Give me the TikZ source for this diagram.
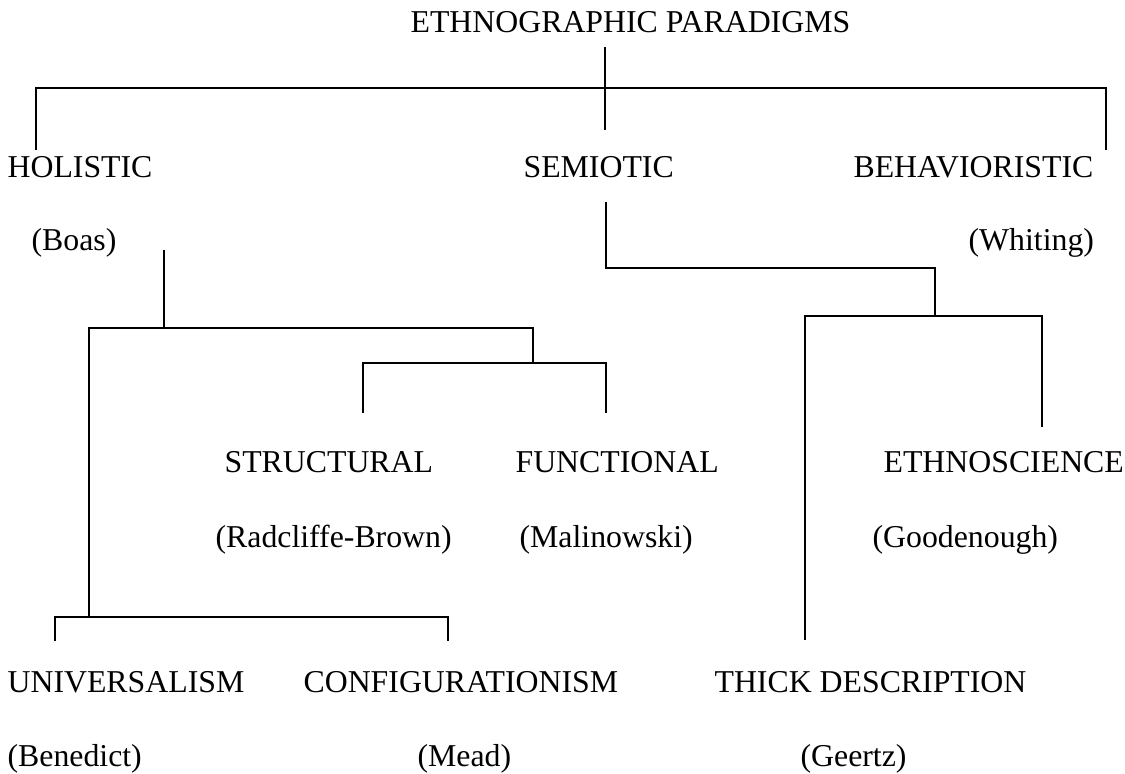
\documentclass[tikz,border=0pt]{standalone}
\usepackage{fontspec}
\setmainfont{Liberation Serif}
\usepackage{tikz}

\begin{document}
\begin{tikzpicture}[x=0.5pt,y=-0.5pt,line width=0.6pt,
  every node/.style={anchor=base west,inner sep=0pt,font=\fontsize{15.9}{19}\selectfont}]
\useasboundingbox (0,0) rectangle (1125,774);
% texts
\node (para) at (410,33) {ETHNOGRAPHIC PARADIGMS};
\node (hol) at (7,178) {HOLISTIC};
\node (sem) at (523,178) {SEMIOTIC};
\node (beh) at (853,178) {BEHAVIORISTIC};
\node (boas) at (31,251) {(Boas)};
\node (whit) at (968,251) {(Whiting)};
\node (str) at (224,473) {STRUCTURAL};
\node (fun) at (515,473) {FUNCTIONAL};
\node (esc) at (883,473) {ETHNOSCIENCE};
\node (rb) at (215,548) {(Radcliffe-Brown)};
\node (mal) at (519,548) {(Malinowski)};
\node (good) at (872,548) {(Goodenough)};
\node (uni) at (7,693) {UNIVERSALISM};
\node (conf) at (303,693) {CONFIGURATIONISM};
\node (thick) at (714,693) {THICK DESCRIPTION};
\node (bene) at (7,767) {(Benedict)};
\node (mead) at (417,767) {(Mead)};
\node (geer) at (800,767) {(Geertz)};
% line ends
\coordinate (para-s) at (605,47);
\coordinate (sem-n) at (605,130);
\coordinate (hol-n) at (36,150);
\coordinate (beh-n) at (1106,150);
\coordinate (sem-s) at (606,202);
\coordinate (boas-s) at (164,250);
\coordinate (str-n) at (363,413);
\coordinate (fun-n) at (606,413);
\coordinate (esc-n) at (1042,427);
\coordinate (thick-n) at (805,640);
\coordinate (uni-n) at (55,641);
\coordinate (conf-n) at (448,641);
% paradigms
\draw (para-s) -- (sem-n);
\draw (hol-n) |- (605,88) -| (beh-n);
% semiotic
\draw (sem-s) |- (935,268) -- (935,316);
\draw (thick-n) |- (935,316) -| (esc-n);
% holistic
\draw (boas-s) -- (164,328);
\draw (uni-n) |- (89,617) -| (conf-n);
\draw (89,617) |- (533,328) -- (533,363);
\draw (str-n) |- (533,363) -| (fun-n);
\end{tikzpicture}
\end{document}
